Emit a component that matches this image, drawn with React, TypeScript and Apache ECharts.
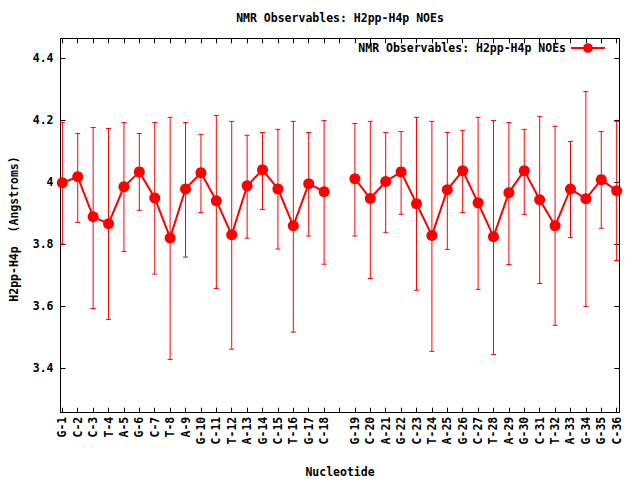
import React, { useEffect, useRef } from "react";
import * as echarts from "echarts";

const nucleotides = [
  "G-1", "C-2", "C-3", "T-4", "A-5", "G-6", "C-7", "T-8", "A-9", "G-10", "C-11", "T-12",
  "A-13", "G-14", "C-15", "T-16", "G-17", "C-18",
  "G-19", "C-20", "A-21", "G-22", "C-23", "T-24", "A-25", "G-26", "C-27", "T-28",
  "A-29", "G-30", "C-31", "T-32", "A-33", "G-34", "G-35", "C-36",
];
const means = [
  3.999, 4.018, 3.889, 3.867, 3.986, 4.034, 3.950, 3.821, 3.979, 4.031, 3.941, 3.831,
  3.989, 4.041, 3.979, 3.860, 3.996, 3.970,
  4.012, 3.948, 4.003, 4.034, 3.931, 3.829, 3.976, 4.038, 3.934, 3.825,
  3.967, 4.038, 3.944, 3.860, 3.979, 3.947, 4.009, 3.973,
];
const lows = [
  3.801, 3.871, 3.593, 3.558, 3.777, 3.910, 3.704, 3.429, 3.759, 3.903, 3.658, 3.462,
  3.820, 3.913, 3.785, 3.517, 3.827, 3.736,
  3.827, 3.690, 3.839, 3.897, 3.652, 3.455, 3.784, 3.903, 3.655, 3.445,
  3.735, 3.897, 3.674, 3.539, 3.822, 3.600, 3.852, 3.748,
];
const highs = [
  4.193, 4.158, 4.177, 4.174, 4.193, 4.158, 4.193, 4.210, 4.193, 4.155, 4.216, 4.197,
  4.152, 4.161, 4.171, 4.197, 4.161, 4.200,
  4.190, 4.197, 4.161, 4.164, 4.210, 4.197, 4.161, 4.168, 4.210, 4.200,
  4.193, 4.171, 4.213, 4.181, 4.132, 4.293, 4.164, 4.197,
];
const yTicks = [3.4, 3.6, 3.8, 4.0, 4.2, 4.4];
const titleText = "NMR Observables: H2pp-H4p NOEs";
const yTitle = "H2pp-H4p  (Angstroms)";
const xTitle = "Nucleotide";
const GAP_AFTER = 18; // one empty slot between C-18 and G-19

const FONT = "'DejaVu Sans Mono', 'Liberation Mono', monospace";
const RED = "#ff0000";

export default function App() {
  const ref = useRef<HTMLDivElement>(null);
  useEffect(() => {
    if (!ref.current) return;
    const chart = echarts.init(ref.current, undefined, { renderer: "svg" });

    const pos = nucleotides.map((_, i) => (i < GAP_AFTER ? i : i + 1));
    const nSlots = nucleotides.length + 1;
    const slotLabels: string[] = [];
    for (let s = 0; s < nSlots; s++) slotLabels.push("");
    nucleotides.forEach((n, i) => (slotLabels[pos[i]] = n));
    const slotValues = slotLabels.map((_, s) => s);

    const lineData: any[] = [];
    nucleotides.forEach((_, i) => {
      if (i === GAP_AFTER) lineData.push([GAP_AFTER, null]);
      lineData.push([pos[i], means[i]]);
    });
    const errData = nucleotides.map((_, i) => [pos[i], lows[i], highs[i]]);

    const xMin = -0.12;
    const xMax = nSlots - 1 + 0.17;
    const yMin = 3.257;
    const yMax = 4.465;

    const tickStyle = { show: true, inside: true, length: 5, lineStyle: { color: "#000", width: 1 } };
    const txt = { fontFamily: FONT, fontSize: 11.5, fontWeight: "bold", color: "#000" };
    const gTxt = { fontFamily: FONT, fontSize: 11.5, fontWeight: "bold", fill: "#000" };

    chart.setOption({
      animation: false,
      backgroundColor: "#fff",
      title: {
        text: titleText,
        left: 340,
        textAlign: "center",
        top: 12,
        padding: 0,
        textStyle: txt,
      },
      legend: {
        data: [titleText],
        align: "right",
        right: 34,
        top: 42,
        padding: 0,
        itemWidth: 34,
        itemHeight: 12,
        itemGap: 0,
        textStyle: txt,
      },
      graphic: [
        {
          type: "text",
          x: 14,
          y: 229,
          rotation: Math.PI / 2,
          style: { ...gTxt, text: yTitle, align: "center", verticalAlign: "middle" },
        },
        {
          type: "text",
          x: 340,
          y: 472,
          style: { ...gTxt, text: xTitle, align: "center", verticalAlign: "middle" },
        },
      ],
      grid: {
        left: 60.5,
        right: 20.7,
        top: 38.3,
        bottom: 67.3,
        containLabel: false,
        outerBoundsMode: "none",
      },
      xAxis: [
        {
          type: "value",
          min: xMin,
          max: xMax,
          position: "bottom",
          axisLine: { show: true, onZero: false, lineStyle: { color: "#000", width: 1 } },
          axisTick: { ...tickStyle, customValues: slotValues },
          axisLabel: {
            customValues: slotValues,
            rotate: 90,
            margin: 4,
            ...txt,
            formatter: (v: number) => slotLabels[Math.round(v)] || "",
          },
          splitLine: { show: false },
        },
        {
          type: "value",
          min: xMin,
          max: xMax,
          position: "top",
          axisLine: { show: true, onZero: false, lineStyle: { color: "#000", width: 1 } },
          axisTick: { ...tickStyle, customValues: slotValues },
          axisLabel: { show: false },
          splitLine: { show: false },
        },
      ],
      yAxis: [
        {
          type: "value",
          min: yMin,
          max: yMax,
          position: "left",
          axisLine: { show: true, onZero: false, lineStyle: { color: "#000", width: 1 } },
          axisTick: { ...tickStyle, customValues: yTicks },
          axisLabel: {
            customValues: yTicks,
            margin: 7,
            ...txt,
            formatter: (v: number) => String(Math.round(v * 10) / 10),
          },
          splitLine: { show: false },
        },
        {
          type: "value",
          min: yMin,
          max: yMax,
          position: "right",
          axisLine: { show: true, onZero: false, lineStyle: { color: "#000", width: 1 } },
          axisTick: { ...tickStyle, customValues: yTicks },
          axisLabel: { show: false },
          splitLine: { show: false },
        },
      ],
      series: [
        {
          name: "errors",
          type: "custom",
          xAxisIndex: 0,
          yAxisIndex: 0,
          z: 1,
          data: errData,
          renderItem: (params: any, api: any) => {
            const x = api.value(0);
            const lo = api.coord([x, api.value(1)]);
            const hi = api.coord([x, api.value(2)]);
            const c = 2.5;
            const style = { stroke: RED, lineWidth: 1 };
            return {
              type: "group",
              children: [
                { type: "line", shape: { x1: lo[0], y1: lo[1], x2: hi[0], y2: hi[1] }, style },
                { type: "line", shape: { x1: lo[0] - c, y1: lo[1], x2: lo[0] + c, y2: lo[1] }, style },
                { type: "line", shape: { x1: hi[0] - c, y1: hi[1], x2: hi[0] + c, y2: hi[1] }, style },
              ],
            };
          },
        },
        {
          name: titleText,
          type: "line",
          xAxisIndex: 0,
          yAxisIndex: 0,
          z: 2,
          data: lineData,
          connectNulls: false,
          symbol: "circle",
          symbolSize: 11,
          showAllSymbol: true,
          itemStyle: { color: RED },
          lineStyle: { color: RED, width: 2 },
        },
      ],
    });
    return () => chart.dispose();
  }, []);
  return (
    <div
      ref={ref}
      style={{ position: "fixed", left: 0, top: 0, width: 640, height: 480, background: "#fff" }}
    />
  );
}
